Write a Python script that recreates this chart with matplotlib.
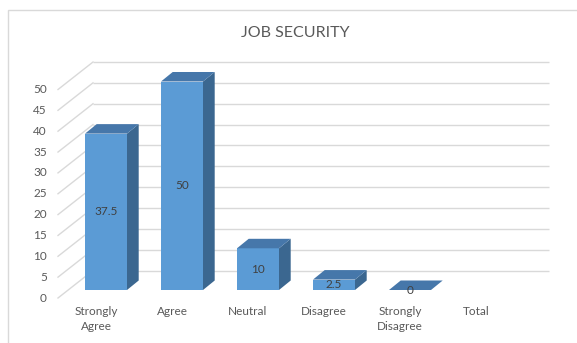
import numpy as np
import matplotlib
matplotlib.use("Agg")
import matplotlib.pyplot as plt
from matplotlib.patches import Polygon, Rectangle

# ---------------- data ----------------
categories = ["Strongly\nAgree", "Agree", "Neutral", "Disagree", "Strongly\nDisagree", "Total"]
values = [37.5, 50, 10, 2.5, 0, np.nan]
value_labels = ["37.5", "50", "10", "2.5", "0", ""]
y_ticks = [0, 5, 10, 15, 20, 25, 30, 35, 40, 45, 50]
title = "JOB SECURITY"

# ---------------- layout (pixels) ----------------
W, H, DPI = 577, 343, 100
PX_CAT = 76.0      # px per category on bar front plane
X0_PX = 106.0      # px of category 0 centre
PX_UNIT = 4.17     # px per value unit
Y0_PX = 290.0      # px (from top) of value 0 on bar front plane
BAR_W = 42 / PX_CAT
BAR_D = (11.7, 9.5)      # bar depth offset (px right, px up)
BACK = (25.0, 19.5)      # back wall offset from bar front plane
FRONT = (-10.0, -8.0)    # label (front) plane offset

def dx(px):
    return px / PX_CAT

def dy(px):
    return px / PX_UNIT

FONT = ["Lato", "DejaVu Sans"]
GRID = "#D9D9D9"
TXT = "#595959"
C_FRONT = "#5B9BD5"
C_TOP = "#4677AA"
C_SIDE = "#3B6790"

fig = plt.figure(figsize=(W / DPI, H / DPI), dpi=DPI)
ax = fig.add_axes([0, 0, 1, 1])
ax.set_xlim(-X0_PX / PX_CAT, (W - X0_PX) / PX_CAT)
ax.set_ylim(-(H - Y0_PX) / PX_UNIT, Y0_PX / PX_UNIT)
ax.axis("off")

# chart border
fig.add_artist(Rectangle((8 / W, -0.1), 1.2, (H - 10) / H + 0.1, transform=fig.transFigure,
                         fill=False, edgecolor=GRID, linewidth=1.0))

# walls / gridlines
xl, xr = -0.5, len(categories) - 0.5
for v in y_ticks:
    yb = v + dy(BACK[1])
    yf = v + dy(FRONT[1])
    ax.plot([xl + dx(BACK[0]), xr + dx(BACK[0])], [yb, yb], color=GRID, lw=1.0, zorder=1,
            solid_capstyle="butt")
    ax.plot([xl + dx(FRONT[0]), xl + dx(BACK[0])], [yf, yb], color=GRID, lw=1.0, zorder=1)
    ax.text(xl + dx(FRONT[0] - 11), yf, str(v), ha="right", va="center",
            fontsize=8.5, color=TXT, family=FONT)

# bars
bdx, bdy = dx(BAR_D[0]), dy(BAR_D[1])
for i, v in enumerate(values):
    if np.isnan(v):
        continue
    l, r = i - BAR_W / 2, i + BAR_W / 2
    if v > 0:
        ax.add_patch(Polygon([(r, 0), (r + bdx, bdy), (r + bdx, v + bdy), (r, v)],
                             closed=True, facecolor=C_SIDE, edgecolor="none", zorder=3))
        ax.add_patch(Rectangle((l, 0), BAR_W, v, facecolor=C_FRONT, edgecolor="none", zorder=4))
    ax.add_patch(Polygon([(l, v), (r, v), (r + bdx, v + bdy), (l + bdx, v + bdy)],
                         closed=True, facecolor=C_TOP, edgecolor="none", zorder=4))
    ax.text(i, v / 2, value_labels[i], ha="center", va="center", fontsize=8.5,
            color="#404040", family=FONT, zorder=5)

# category labels (on the front plane)
for i, c in enumerate(categories):
    ax.text(i + dx(FRONT[0]), -dy(16), c, ha="center", va="top", fontsize=8.5,
            color=TXT, family=FONT, linespacing=1.45)

fig.text(295 / W, 1 - 33 / H, title, ha="center", va="center", fontsize=11.5,
         color=TXT, family=FONT)

fig.savefig("out.png", dpi=DPI)
